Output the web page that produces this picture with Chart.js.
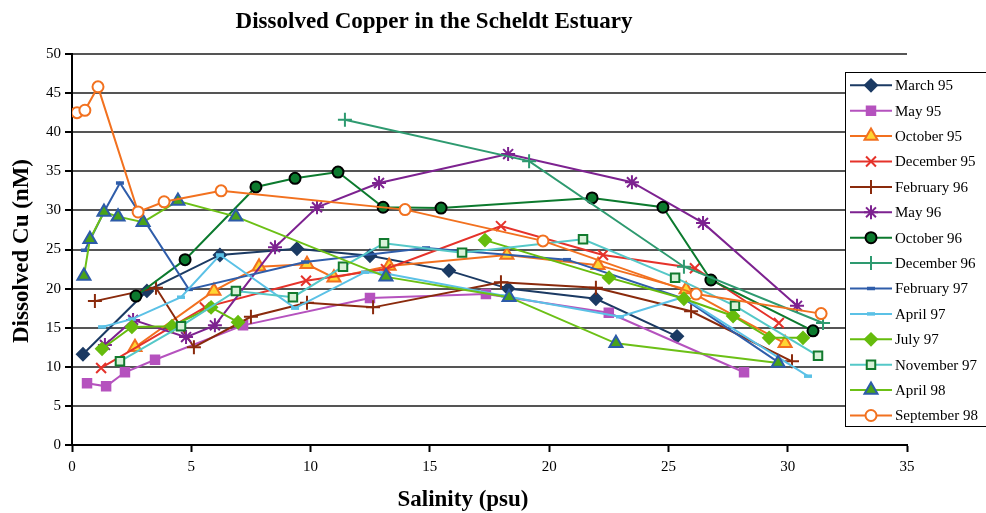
<!DOCTYPE html>
<html>
<head>
<meta charset="utf-8">
<script src="https://cdn.jsdelivr.net/npm/chart.js@4/dist/chart.umd.min.js"></script>
<style>
  html, body { margin: 0; padding: 0; background: #fff; }
  #wrap { width: 986px; height: 513px; position: relative; }
</style>
</head>
<body>
<div id="wrap"><canvas id="cu"></canvas></div>
<script>
// Dissolved copper (nM) against salinity (psu), one pair of arrays per survey
const march95Salinity = [0.46, 3.14, 6.2, 9.43, 12.49, 15.8, 18.28, 21.96, 25.36];
const march95Copper   = [11.6, 19.7, 24.3, 25.1, 24.2, 22.3, 20.0, 18.7, 13.9];

const may95Salinity = [0.63, 1.43, 2.22, 3.48, 7.17, 12.49, 17.35, 22.5, 28.17];
const may95Copper   = [7.9, 7.5, 9.3, 10.9, 15.3, 18.8, 19.3, 16.9, 9.3];

const oct95Salinity = [2.64, 5.95, 7.84, 9.85, 10.98, 13.29, 18.23, 22.05, 25.74, 29.89];
const oct95Copper   = [12.5, 19.7, 22.8, 23.1, 21.4, 22.9, 24.3, 23.0, 19.9, 13.0];

const dec95Salinity = [1.22, 5.57, 9.81, 13.16, 17.98, 22.26, 26.11, 29.63];
const dec95Copper   = [9.85, 17.6, 21.0, 22.5, 28.0, 24.3, 22.6, 15.6];

const feb96Salinity = [0.96, 3.52, 5.11, 7.5, 9.85, 12.62, 17.98, 21.96, 25.95, 30.18];
const feb96Copper   = [18.4, 20.1, 12.5, 16.4, 18.2, 17.6, 20.8, 20.1, 17.1, 10.7];

const may96Salinity = [1.38, 2.56, 4.78, 5.99, 8.51, 10.27, 12.87, 18.28, 23.47, 26.45, 30.39];
const may96Copper   = [12.8, 16.0, 13.8, 15.3, 25.3, 30.4, 33.5, 37.2, 33.6, 28.4, 17.8];

const oct96Salinity = [2.68, 4.74, 7.71, 9.35, 11.15, 13.04, 15.47, 21.8, 24.77, 26.78, 31.06];
const oct96Copper   = [19.05, 23.7, 33.0, 34.1, 34.9, 30.4, 30.3, 31.6, 30.4, 21.1, 14.6];

const dec96Salinity = [11.44, 19.16, 25.65, 31.48];
const dec96Copper   = [41.6, 36.3, 22.8, 15.6];

const feb97Salinity = [0.54, 1.34, 2.01, 4.9, 9.77, 14.84, 20.75, 25.65, 29.6];
const feb97Copper   = [24.9, 29.8, 33.5, 19.9, 23.4, 25.2, 23.7, 18.7, 10.6];

const apr97Salinity = [1.26, 2.51, 4.57, 6.2, 9.35, 12.28, 13.04, 18.15, 22.97, 25.61, 30.85];
const apr97Copper   = [15.1, 16.1, 18.9, 24.3, 17.5, 22.1, 22.0, 19.05, 16.4, 18.9, 8.8];

// no sample between the two July 97 stretches, so the line breaks there
const jul97Salinity = [1.26, 2.51, 4.19, 5.83, 6.96, 12.0, 17.31, 22.51, 25.65, 27.71, 29.22, 30.64];
const jul97Copper   = [12.3, 15.1, 15.2, 17.6, 15.7, null, 26.2, 21.4, 18.7, 16.5, 13.7, 13.7];

const nov97Salinity = [2.01, 4.57, 6.87, 9.26, 11.36, 13.08, 16.35, 21.42, 25.28, 27.79, 31.27];
const nov97Copper   = [10.7, 15.2, 19.7, 18.9, 22.8, 25.8, 24.6, 26.3, 21.4, 17.8, 11.4];

const apr98Salinity = [0.5, 0.75, 1.34, 1.93, 2.98, 4.44, 6.87, 13.16, 18.32, 22.8, 29.6];
const apr98Copper   = [21.6, 26.3, 29.8, 29.2, 28.5, 31.2, 29.2, 21.5, 18.9, 13.0, 10.5];

const sep98Salinity = [0.21, 0.54, 1.09, 2.77, 3.86, 6.25, 13.96, 19.74, 26.16, 31.4];
const sep98Copper   = [42.5, 42.8, 45.8, 29.8, 31.1, 32.5, 30.1, 26.1, 19.3, 16.8];

const surveyNames = ['March 95', 'May 95', 'October 95', 'December 95', 'February 96', 'May 96',
  'October 96', 'December 96', 'February 97', 'April 97', 'July 97', 'November 97', 'April 98', 'September 98'];

const yTicks = [0, 5, 10, 15, 20, 25, 30, 35, 40, 45, 50];
const xTicks = [0, 5, 10, 15, 20, 25, 30, 35];

const chartTitle = 'Dissolved Copper in the Scheldt Estuary';
const xTitle = 'Salinity (psu)';
const yTitle = 'Dissolved Cu (nM)';

const pairs = (xs, ys) => xs.map((x, i) => ({ x: x, y: ys[i] }));

// line colour, marker shape, marker fill, marker outline, radius
const looks = [
  { line: '#1B3A63', shape: 'rectRot', fill: '#1B3A63', edge: '#1B3A63', r: 6 },
  { line: '#B552BE', shape: 'rect', fill: '#B552BE', edge: '#B552BE', r: 6 },
  { line: '#F2701F', shape: 'triangle', fill: '#FFD633', edge: '#F2701F', r: 7.5 },
  { line: '#E5322A', shape: 'crossRot', fill: '#E5322A', edge: '#E5322A', r: 7 },
  { line: '#8A2A0C', shape: 'cross', fill: '#8A2A0C', edge: '#8A2A0C', r: 7 },
  { line: '#7D2290', shape: 'star', fill: '#7D2290', edge: '#7D2290', r: 7 },
  { line: '#0C7A2E', shape: 'circle', fill: '#0C7A2E', edge: '#000000', r: 5.5 },
  { line: '#2E9A70', shape: 'cross', fill: '#2E9A70', edge: '#2E9A70', r: 7 },
  { line: '#2F5DAA', shape: 'line', fill: '#2F5DAA', edge: '#2F5DAA', r: 4 },
  { line: '#5BC1E6', shape: 'line', fill: '#5BC1E6', edge: '#5BC1E6', r: 4 },
  { line: '#66BC0D', shape: 'rectRot', fill: '#66BC0D', edge: '#66BC0D', r: 6 },
  { line: '#55C8C8', shape: 'rect', fill: '#D8F1D8', edge: '#127A2E', r: 6 },
  { line: '#6CC016', shape: 'triangle', fill: '#4AA31A', edge: '#2C5BA8', r: 7.5 },
  { line: '#F2711F', shape: 'circle', fill: '#FFFFFF', edge: '#F2711F', r: 5.5 }
];

const series = [
  pairs(march95Salinity, march95Copper),
  pairs(may95Salinity, may95Copper),
  pairs(oct95Salinity, oct95Copper),
  pairs(dec95Salinity, dec95Copper),
  pairs(feb96Salinity, feb96Copper),
  pairs(may96Salinity, may96Copper),
  pairs(oct96Salinity, oct96Copper),
  pairs(dec96Salinity, dec96Copper),
  pairs(feb97Salinity, feb97Copper),
  pairs(apr97Salinity, apr97Copper),
  pairs(jul97Salinity, jul97Copper),
  pairs(nov97Salinity, nov97Copper),
  pairs(apr98Salinity, apr98Copper),
  pairs(sep98Salinity, sep98Copper)
];

const markerWidth = (lk) => (lk.shape === 'line' ? 3.5 : 2);

const datasets = series.map((pts, i) => {
  const lk = looks[i];
  return {
    label: surveyNames[i],
    data: pts,
    order: series.length - i,
    borderColor: lk.line,
    borderWidth: 2,
    tension: 0,
    spanGaps: false,
    pointStyle: lk.shape,
    pointRadius: lk.r,
    pointHoverRadius: lk.r,
    pointBackgroundColor: lk.fill,
    pointBorderColor: lk.edge,
    pointBorderWidth: markerWidth(lk)
  };
});

const SERIF = '"Liberation Serif", "Times New Roman", serif';

// titles and the boxed key sitting on top of the plot
const overlay = {
  id: 'overlay',
  afterDraw(chart) {
    const ctx = chart.ctx;
    ctx.save();
    ctx.fillStyle = '#000';
    ctx.textAlign = 'center';
    ctx.textBaseline = 'middle';
    ctx.font = 'bold 23px ' + SERIF;
    ctx.fillText(chartTitle, 434, 22);
    ctx.fillText(xTitle, 463, 500);
    ctx.save();
    ctx.translate(22, 251);
    ctx.rotate(-Math.PI / 2);
    ctx.fillText(yTitle, 0, 0);
    ctx.restore();

    // key box
    const bx = 845, by = 72, bw = 160, bh = 354;
    ctx.fillStyle = '#fff';
    ctx.fillRect(bx, by, bw, bh);
    ctx.strokeStyle = '#000';
    ctx.lineWidth = 1;
    ctx.strokeRect(bx + 0.5, by + 0.5, bw, bh);

    ctx.font = '15px ' + SERIF;
    ctx.textAlign = 'left';
    chart.data.datasets.forEach((ds, i) => {
      const y = 85.3 + i * 25.4;
      ctx.strokeStyle = ds.borderColor;
      ctx.lineWidth = 2;
      ctx.beginPath();
      ctx.moveTo(850, y);
      ctx.lineTo(892, y);
      ctx.stroke();
      ctx.fillStyle = ds.pointBackgroundColor;
      ctx.strokeStyle = ds.pointBorderColor;
      ctx.lineWidth = ds.pointBorderWidth;
      Chart.helpers.drawPoint(ctx, {
        pointStyle: ds.pointStyle,
        radius: ds.pointRadius,
        rotation: 0,
        borderWidth: ds.pointBorderWidth
      }, 871, y);
      ctx.fillStyle = '#000';
      ctx.fillText(ds.label, 895, y + 1);
    });
    ctx.restore();
  }
};

new Chart(document.getElementById('cu'), {
  type: 'line',
  data: { datasets: datasets },
  plugins: [overlay],
  options: {
    responsive: true,
    maintainAspectRatio: false,
    animation: false,
    layout: { padding: { left: 0, top: 54, right: 79, bottom: 0 } },
    plugins: {
      legend: { display: false },
      title: { display: false },
      tooltip: { enabled: false }
    },
    scales: {
      x: {
        type: 'linear',
        min: xTicks[0],
        max: xTicks[xTicks.length - 1],
        afterBuildTicks(scale) { scale.ticks = xTicks.map(v => ({ value: v })); },
        afterFit(scale) { scale.height = 68; },
        border: { display: true, color: '#000', width: 2 },
        grid: { drawOnChartArea: false, drawTicks: true, tickLength: 7, tickColor: '#000', tickWidth: 2 },
        ticks: { color: '#000', padding: 6, font: { family: SERIF, size: 15 }, maxRotation: 0 }
      },
      y: {
        type: 'linear',
        min: yTicks[0],
        max: yTicks[yTicks.length - 1],
        afterBuildTicks(scale) { scale.ticks = yTicks.map(v => ({ value: v })); },
        afterFit(scale) { scale.width = 72; },
        border: { display: true, color: '#000', width: 2 },
        grid: { color: '#555', lineWidth: 2, drawTicks: true, tickLength: 7, tickColor: '#000', tickWidth: 2 },
        ticks: { color: '#000', padding: 4, font: { family: SERIF, size: 15 } }
      }
    }
  }
});
</script>
</body>
</html>
